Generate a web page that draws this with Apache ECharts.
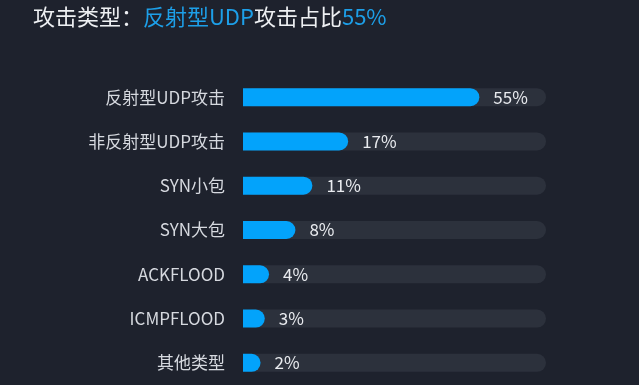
<!DOCTYPE html>
<html>
<head>
<meta charset="utf-8">
<script src="https://cdn.jsdelivr.net/npm/echarts@6/dist/echarts.min.js"></script>
<style>
html,body{margin:0;padding:0;background:#1e222d;}
#c{width:639px;height:385px;}
</style>
</head>
<body>
<div id="c"></div>
<script>
// Categories (top to bottom)
var categories = ['反射型UDP攻击', '非反射型UDP攻击', 'SYN小包', 'SYN大包', 'ACKFLOOD', 'ICMPFLOOD', '其他类型'];
// Percent labels as shown
var percentLabels = [55, 17, 11, 8, 4, 3, 2];
// Bar lengths, as % of the track length
var barLengths = [78, 34.7, 22.9, 17.3, 8.6, 7.2, 5.8];
// Track (full length)
var trackMax = 100;
var trackValues = [100, 100, 100, 100, 100, 100, 100];

var FONT = '"Noto Sans CJK SC", "Noto Sans", sans-serif';
var chart = echarts.init(document.getElementById('c'));
chart.setOption({
  backgroundColor: '#1e222d',
  animation: false,
  title: {
    left: 33, top: 6, padding: 0,
    text: '{w|攻击类型：}{b|反射型UDP}{w|攻击占比}{b|' + percentLabels[0] + '%}',
    textStyle: {
      fontWeight: 'normal',
      rich: {
        w: {color: '#eef0f3', fontSize: 22, fontWeight: 'normal', fontFamily: FONT},
        b: {color: '#1d9fe8', fontSize: 22, fontWeight: 'normal', fontFamily: FONT}
      }
    }
  },
  grid: {left: 243, right: 93, top: 75, bottom: 0},
  xAxis: {type: 'value', min: 0, max: trackMax, show: false},
  yAxis: {
    type: 'category', inverse: true, data: categories,
    axisLine: {show: false}, axisTick: {show: false}, splitLine: {show: false},
    axisLabel: {margin: 18, color: '#d6d9df', fontSize: 17, fontFamily: FONT}
  },
  series: [
    {
      type: 'bar', data: trackValues, barWidth: 18, barGap: '-100%',
      itemStyle: {color: '#2c313c', borderRadius: 9}, silent: true, z: 1
    },
    {
      type: 'bar', data: barLengths, barWidth: 18,
      itemStyle: {color: '#03a3fb', borderRadius: [0, 9, 9, 0]}, z: 2,
      label: {
        show: true, position: 'right', distance: 14,
        color: '#e9ebef', fontSize: 17, fontFamily: FONT,
        formatter: function (p) { return percentLabels[p.dataIndex] + '%'; }
      }
    }
  ]
});
</script>
</body>
</html>
